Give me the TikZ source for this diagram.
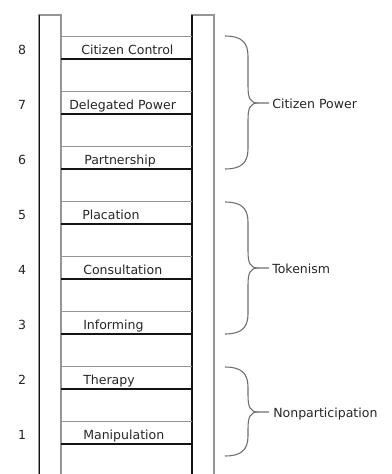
\documentclass[tikz,border=0pt]{standalone}
\usepackage{fontspec}
\setmainfont{DejaVu Sans}
\usetikzlibrary{positioning}
\definecolor{LadderInk}{HTML}{141414}
\definecolor{LadderGrey}{HTML}{959595}
\definecolor{BraceGrey}{HTML}{6E6E6E}
\definecolor{TextInk}{HTML}{262626}

\begin{document}
\begin{tikzpicture}[
  x=0.75pt,
  y=-0.75pt,
  font=\fontsize{9.4}{11}\selectfont,
  rail/.style={draw=LadderGrey, line width=0.8pt},
  railedge/.style={draw=LadderInk, line width=1.2pt},
  rung/.style={minimum width=98.25pt, minimum height=16.5pt, inner sep=0pt},
  rungtop/.style={draw=LadderGrey, line width=0.9pt},
  rungbot/.style={draw=LadderInk, line width=1.2pt},
  steplabel/.style={anchor=base west, inner sep=0pt, text=TextInk},
  stepnum/.style={anchor=base, inner sep=0pt, text=TextInk},
  grouplabel/.style={anchor=base west, inner sep=0pt, text=TextInk},
  brace/.style={draw=BraceGrey, line width=0.8pt}
]
\useasboundingbox (0,0) rectangle (392,474);

% rails
\draw[rail] (39,474) |- (61,15) -- (61,474);
\draw[rail] (192,474) |- (214,15) -- (214,474);
\draw[railedge] (39.5,15) -- (39.5,474);
\draw[railedge] (192,15) -- (192,474);

% rungs
\node[rung] (r8) at (126.5,48) {};
\node[rung] (r7) at (126.5,103) {};
\node[rung] (r6) at (126.5,158) {};
\node[rung] (r5) at (126.5,213) {};
\node[rung] (r4) at (126.5,268) {};
\node[rung] (r3) at (126.5,323) {};
\node[rung] (r2) at (126.5,378) {};
\node[rung] (r1) at (126.5,433) {};
\foreach \r in {1,...,8} {
  \draw[rungtop] (r\r.north west) -- (r\r.north east);
  \draw[rungbot] (r\r.south west) -- (r\r.south east);
}

\node[steplabel] (s8) at (81,54.3) {Citizen Control};
\node[steplabel] (s7) at (69,109.3) {Delegated Power};
\node[steplabel] (s6) at (84,164.3) {Partnership};
\node[steplabel] (s5) at (82,219.3) {Placation};
\node[steplabel] (s4) at (83,274.3) {Consultation};
\node[steplabel] (s3) at (83,329.3) {Informing};
\node[steplabel] (s2) at (83,384.3) {Therapy};
\node[steplabel] (s1) at (83,439.3) {Manipulation};

\node[stepnum] (n8) at (22,54.3) {8};
\node[stepnum] (n7) at (22,109.3) {7};
\node[stepnum] (n6) at (22,164.3) {6};
\node[stepnum] (n5) at (22,219.3) {5};
\node[stepnum] (n4) at (22,274.3) {4};
\node[stepnum] (n3) at (22,329.3) {3};
\node[stepnum] (n2) at (22,384.3) {2};
\node[stepnum] (n1) at (22,439.3) {1};

% groups
\coordinate (cptip) at (269,103);
\coordinate (tktip) at (269,268);
\coordinate (nptip) at (269,412);
\node[grouplabel] (cp) at (272,108.5) {Citizen Power};
\node[grouplabel] (tk) at (272,273.5) {Tokenism};
\node[grouplabel] (np) at (273,417) {Nonparticipation};

\draw[brace] (225,36) .. controls (241,36) and (248,42) .. (248,56) -- (248,86)
  .. controls (248,98) and (250,103) .. (258,103) -- (cptip);
\draw[brace] (225,169) .. controls (241,169) and (248,163) .. (248,149) -- (248,120)
  .. controls (248,108) and (250,103) .. (258,103);
\draw[brace] (225,202) .. controls (241,202) and (248,208) .. (248,222) -- (248,251)
  .. controls (248,263) and (250,268) .. (258,268) -- (tktip);
\draw[brace] (225,334) .. controls (241,334) and (248,328) .. (248,314) -- (248,285)
  .. controls (248,273) and (250,268) .. (258,268);
\draw[brace] (225,367) .. controls (241,367) and (248,373) .. (248,387) -- (248,395)
  .. controls (248,407) and (250,412) .. (258,412) -- (nptip);
\draw[brace] (225,456) .. controls (241,456) and (248,450) .. (248,436) -- (248,429)
  .. controls (248,417) and (250,412) .. (258,412);
\end{tikzpicture}
\end{document}
